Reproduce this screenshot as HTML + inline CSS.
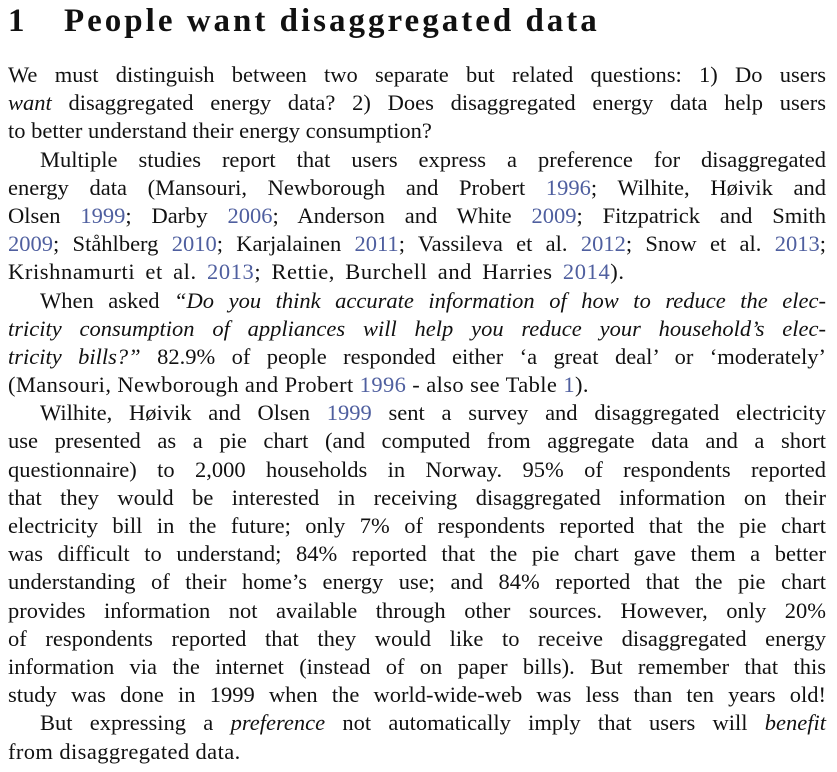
<!DOCTYPE html>
<html><head><meta charset="utf-8">
<style>
html,body{margin:0;padding:0;background:#fff;}
body{width:837px;height:772px;position:relative;overflow:hidden;font-family:"Liberation Serif",serif;color:#111;}
h1{position:absolute;left:8px;top:1px;margin:0;font-size:33px;font-weight:bold;line-height:40px;letter-spacing:3px;}
h1 .num{display:inline-block;width:56px;}
#text{position:absolute;left:8px;top:61px;width:818px;font-size:22.5px;}
.l{height:28.2px;line-height:28.2px;white-space:nowrap;text-align:justify;text-align-last:justify;}
.l.last{text-align-last:left;}
.ind{padding-left:32px;}
.c{color:#4f5f9f;}
</style></head><body>
<h1><span class="num">1</span>People want disaggregated data</h1>
<div id="text">
<div class="l">We must distinguish between two separate but related questions: 1) Do users</div>
<div class="l"><i>want</i> disaggregated energy data? 2) Does disaggregated energy data help users</div>
<div class="l last">to better understand their energy consumption?</div>
<div class="l ind">Multiple studies report that users express a preference for disaggregated</div>
<div class="l">energy data (Mansouri, Newborough and Probert <span class="c">1996</span>; Wilhite, Høivik and</div>
<div class="l">Olsen <span class="c">1999</span>; Darby <span class="c">2006</span>; Anderson and White <span class="c">2009</span>; Fitzpatrick and Smith</div>
<div class="l"><span class="c">2009</span>; Ståhlberg <span class="c">2010</span>; Karjalainen <span class="c">2011</span>; Vassileva et al. <span class="c">2012</span>; Snow et al. <span class="c">2013</span>;</div>
<div class="l last" style="word-spacing:4px;letter-spacing:0.6px">Krishnamurti et al. <span class="c">2013</span>; Rettie, Burchell and Harries <span class="c">2014</span>).</div>
<div class="l ind">When asked <i>“Do you think accurate information of how to reduce the elec-</i></div>
<div class="l"><i>tricity consumption of appliances will help you reduce your household’s elec-</i></div>
<div class="l"><i>tricity bills?”</i> 82.9% of people responded either ‘a great deal’ or ‘moderately’</div>
<div class="l last" style="letter-spacing:0.4px">(Mansouri, Newborough and Probert <span class="c">1996</span> - also see Table <span class="c">1</span>).</div>
<div class="l ind">Wilhite, Høivik and Olsen <span class="c">1999</span> sent a survey and disaggregated electricity</div>
<div class="l">use presented as a pie chart (and computed from aggregate data and a short</div>
<div class="l">questionnaire) to 2,000 households in Norway. 95% of respondents reported</div>
<div class="l">that they would be interested in receiving disaggregated information on their</div>
<div class="l">electricity bill in the future; only 7% of respondents reported that the pie chart</div>
<div class="l">was difficult to understand; 84% reported that the pie chart gave them a better</div>
<div class="l">understanding of their home’s energy use; and 84% reported that the pie chart</div>
<div class="l">provides information not available through other sources. However, only 20%</div>
<div class="l">of respondents reported that they would like to receive disaggregated energy</div>
<div class="l">information via the internet (instead of on paper bills). But remember that this</div>
<div class="l">study was done in 1999 when the world-wide-web was less than ten years old!</div>
<div class="l ind">But expressing a <i>preference</i> not automatically imply that users will <i>benefit</i></div>
<div class="l last" style="letter-spacing:0.4px">from disaggregated data.</div>
</div>
</body></html>
